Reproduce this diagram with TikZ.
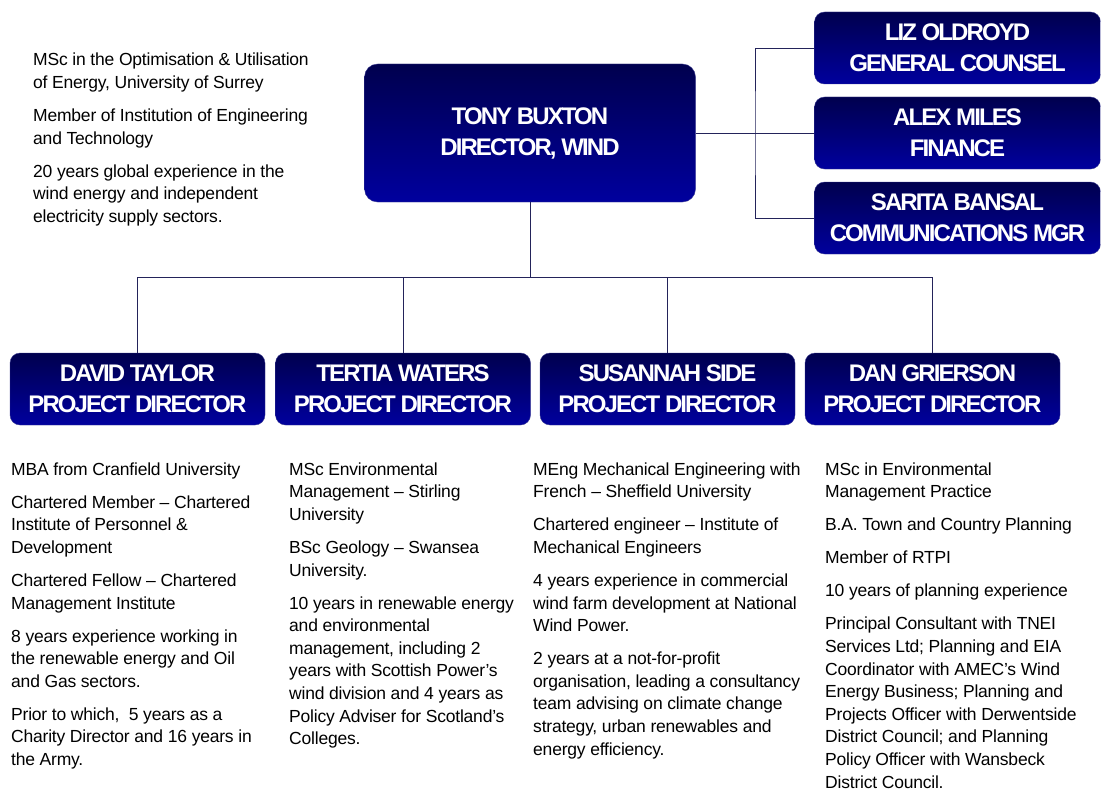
\documentclass[tikz,border=0pt]{standalone}
\usepackage{xcolor}
\usepackage{fontspec}
\setmainfont[LetterSpace=-1.2]{Liberation Sans}
\newfontfamily\boxfont[LetterSpace=-8]{Liberation Sans}
\usepackage{tikz}

\definecolor{navytop}{RGB}{0,0,78}
\definecolor{navybot}{RGB}{0,0,158}
\definecolor{linkcol}{RGB}{35,35,90}

\tikzset{
    role/.style={rounded corners=10pt, top color=navytop, bottom color=navybot,
        draw=navybot!55!gray, line width=0.4pt, text=white, align=center, inner sep=0pt,
        font=\boxfont\bfseries\fontsize{24}{31}\selectfont,
        minimum width=255pt, minimum height=72pt},
    bio/.style={anchor=north west, align=left, inner sep=0pt,
        font=\fontsize{17.5}{22.6}\selectfont},
    link/.style={draw=linkcol, line width=0.9pt}
}
\newcommand{\gap}{\\[10.4pt]}

\begin{document}
\begin{tikzpicture}[x=1pt,y=-1pt]
        \useasboundingbox (0,0) rectangle (1101,792);

        % director and his staff
        \draw (530,133) node[role, minimum width=331pt, minimum height=138pt, rounded corners=13pt](tony){TONY BUXTON\\DIRECTOR, WIND};
        \draw (957.5,48) node[role, minimum width=286pt](liz){LIZ OLDROYD\\GENERAL COUNSEL};
        \draw (957.5,133) node[role, minimum width=286pt](alex){ALEX MILES\\FINANCE};
        \draw (957.5,218) node[role, minimum width=286pt](sarita){SARITA BANSAL\\COMMUNICATIONS MGR};

        % project directors
        \draw (137.5,389) node[role](david){DAVID TAYLOR\\PROJECT DIRECTOR};
        \draw (403,389) node[role](tertia){TERTIA WATERS\\PROJECT DIRECTOR};
        \draw (667.5,389) node[role](susannah){SUSANNAH SIDE\\PROJECT DIRECTOR};
        \draw (932.5,389) node[role](dan){DAN GRIERSON\\PROJECT DIRECTOR};

        \coordinate (spine) at (755,133);
        \coordinate (bus) at (530,277);
        \draw[link] (tony.east) -- (alex.west);
        \draw[link] (liz.west) -| (spine) |- (sarita.west);
        \draw[link] (tony.south) -- (bus);
        \draw[link] (bus) -| (david.north);
        \draw[link] (bus) -| (tertia.north);
        \draw[link] (bus) -| (susannah.north);
        \draw[link] (bus) -| (dan.north);

        % backgrounds
        \draw (33,53) node[bio](tonybio){MSc in the Optimisation \& Utilisation\\of Energy, University of Surrey\gap
            Member of Institution of Engineering\\and Technology\gap
            20 years global experience in the\\wind energy and independent\\electricity supply sectors.};
        \draw (11,462.5) node[bio](davidbio){MBA from Cranfield University\gap
            Chartered Member -- Chartered\\Institute of Personnel \&\\Development\gap
            Chartered Fellow -- Chartered\\Management Institute\gap
            8 years experience working in\\the renewable energy and Oil\\and Gas sectors.\gap
            Prior to which,~ 5 years as a\\Charity Director and 16 years in\\the Army.};
        \draw (289,462.5) node[bio](tertiabio){MSc Environmental\\Management -- Stirling\\University\gap
            BSc Geology -- Swansea\\University.\gap
            10 years in renewable energy\\and environmental\\management, including 2\\years with Scottish Power's\\wind division and 4 years as\\Policy Adviser for Scotland's\\Colleges.};
        \draw (533,462.5) node[bio](susannahbio){MEng Mechanical Engineering with\\French -- Sheffield University\gap
            Chartered engineer -- Institute of\\Mechanical Engineers\gap
            4 years experience in commercial\\wind farm development at National\\Wind Power.\gap
            2 years at a not-for-profit\\organisation, leading a consultancy\\team advising on climate change\\strategy, urban renewables and\\energy efficiency.};
        \draw (825,462.5) node[bio](danbio){MSc in Environmental\\Management Practice\gap
            B.A. Town and Country Planning\gap
            Member of RTPI\gap
            10 years of planning experience\gap
            Principal Consultant with TNEI\\Services Ltd; Planning and EIA\\Coordinator with AMEC's Wind\\Energy Business; Planning and\\Projects Officer with Derwentside\\District Council; and Planning\\Policy Officer with Wansbeck\\District Council.};
    \end{tikzpicture}
\end{document}
